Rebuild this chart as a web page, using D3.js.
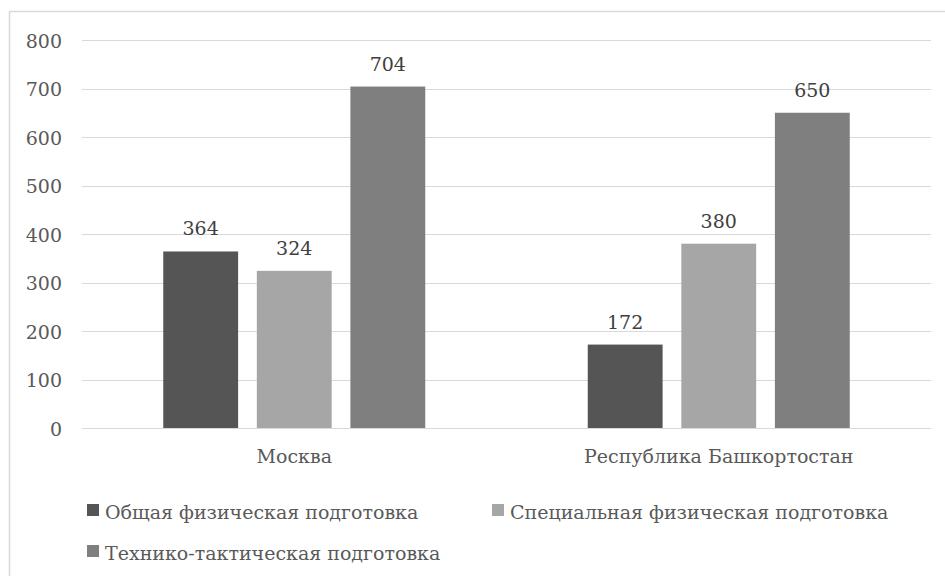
<!DOCTYPE html>
<html><head><meta charset="utf-8">
<script src="https://cdn.jsdelivr.net/npm/d3@7"></script>
<style>body{margin:0;background:#fff}svg{display:block}</style>
</head><body><svg id="c" width="945" height="576"></svg>
<script>
const categories = ["Москва", "Республика Башкортостан"];
const seriesNames = ["Общая физическая подготовка", "Специальная физическая подготовка", "Технико-тактическая подготовка"];
const seriesColors = ["#555555", "#a6a6a6", "#7f7f7f"];
const general = [364, 172];
const special = [324, 380];
const technical = [704, 650];
const yTicks = [0, 100, 200, 300, 400, 500, 600, 700, 800];

(function(){
const FONT = "'DejaVu Serif', serif";
const FS = 19;
const values = [general, special, technical];
const svg = d3.select("#c");
svg.append("rect").attr("x",9.5).attr("y",11.5).attr("width",945).attr("height",600)
  .attr("fill","#fff").attr("stroke","#d9d9d9").attr("stroke-width",1.5);

const pLeft = 82, pRight = 931, pTop = 40, pBottom = 428;
const x0 = d3.scaleBand().domain(categories).range([pLeft, pRight]).paddingInner(0).paddingOuter(0);
const y = d3.scaleLinear().domain([0, 800]).range([pBottom, pTop]);
const x1 = d3.scaleBand().domain(d3.range(3)).range([0, 262]).paddingInner(0.2).paddingOuter(0);

svg.append("g").selectAll("line").data(yTicks).join("line")
  .attr("x1", pLeft).attr("x2", pRight)
  .attr("y1", d => Math.round(y(d)) + 0.5).attr("y2", d => Math.round(y(d)) + 0.5)
  .attr("stroke", "#d9d9d9").attr("stroke-width", 1.2);

const yAxis = d3.axisLeft(y).tickValues(yTicks).tickSize(0).tickPadding(0);
const ga = svg.append("g").attr("transform", `translate(62,0)`).call(yAxis);
ga.select(".domain").remove();
ga.selectAll("text").style("font-family", FONT).style("font-size", FS + "px").attr("fill", "#595959").attr("dy", "0.38em");

const groups = svg.append("g").selectAll("g").data(categories).join("g")
  .attr("transform", d => `translate(${x0(d) + x0.bandwidth()/2 - 131},0)`);
groups.each(function(cat, ci) {
  const g = d3.select(this);
  values.forEach((arr, si) => {
    const v = arr[ci];
    g.append("rect").attr("x", x1(si)).attr("width", x1.bandwidth())
      .attr("y", y(v)).attr("height", y(0) - y(v)).attr("fill", seriesColors[si]);
    g.append("text").attr("x", x1(si) + x1.bandwidth()/2).attr("y", y(v) - 16)
      .attr("text-anchor", "middle").style("font-family", FONT).style("font-size", FS + "px")
      .attr("fill", "#404040").text(v);
  });
});

const xAxis = d3.axisBottom(x0).tickSize(0).tickPadding(0);
const gx = svg.append("g").attr("transform", `translate(0,463)`).call(xAxis);
gx.select(".domain").remove();
gx.selectAll("text").style("font-family", FONT).style("font-size", FS + "px").attr("fill", "#595959").attr("dy", 0);

const legendPos = [[87, 519], [492, 519], [87, 560]];
const lg = svg.append("g").selectAll("g").data(seriesNames).join("g")
  .attr("transform", (d, i) => `translate(${legendPos[i][0]},${legendPos[i][1]})`);
lg.append("rect").attr("x", 0).attr("y", -15).attr("width", 12).attr("height", 12)
  .attr("fill", (d, i) => seriesColors[i]);
lg.append("text").attr("x", 18).attr("y", 0).style("font-family", FONT).style("font-size", FS + "px")
  .attr("fill", "#595959").text(d => d);
})();
</script></body></html>
